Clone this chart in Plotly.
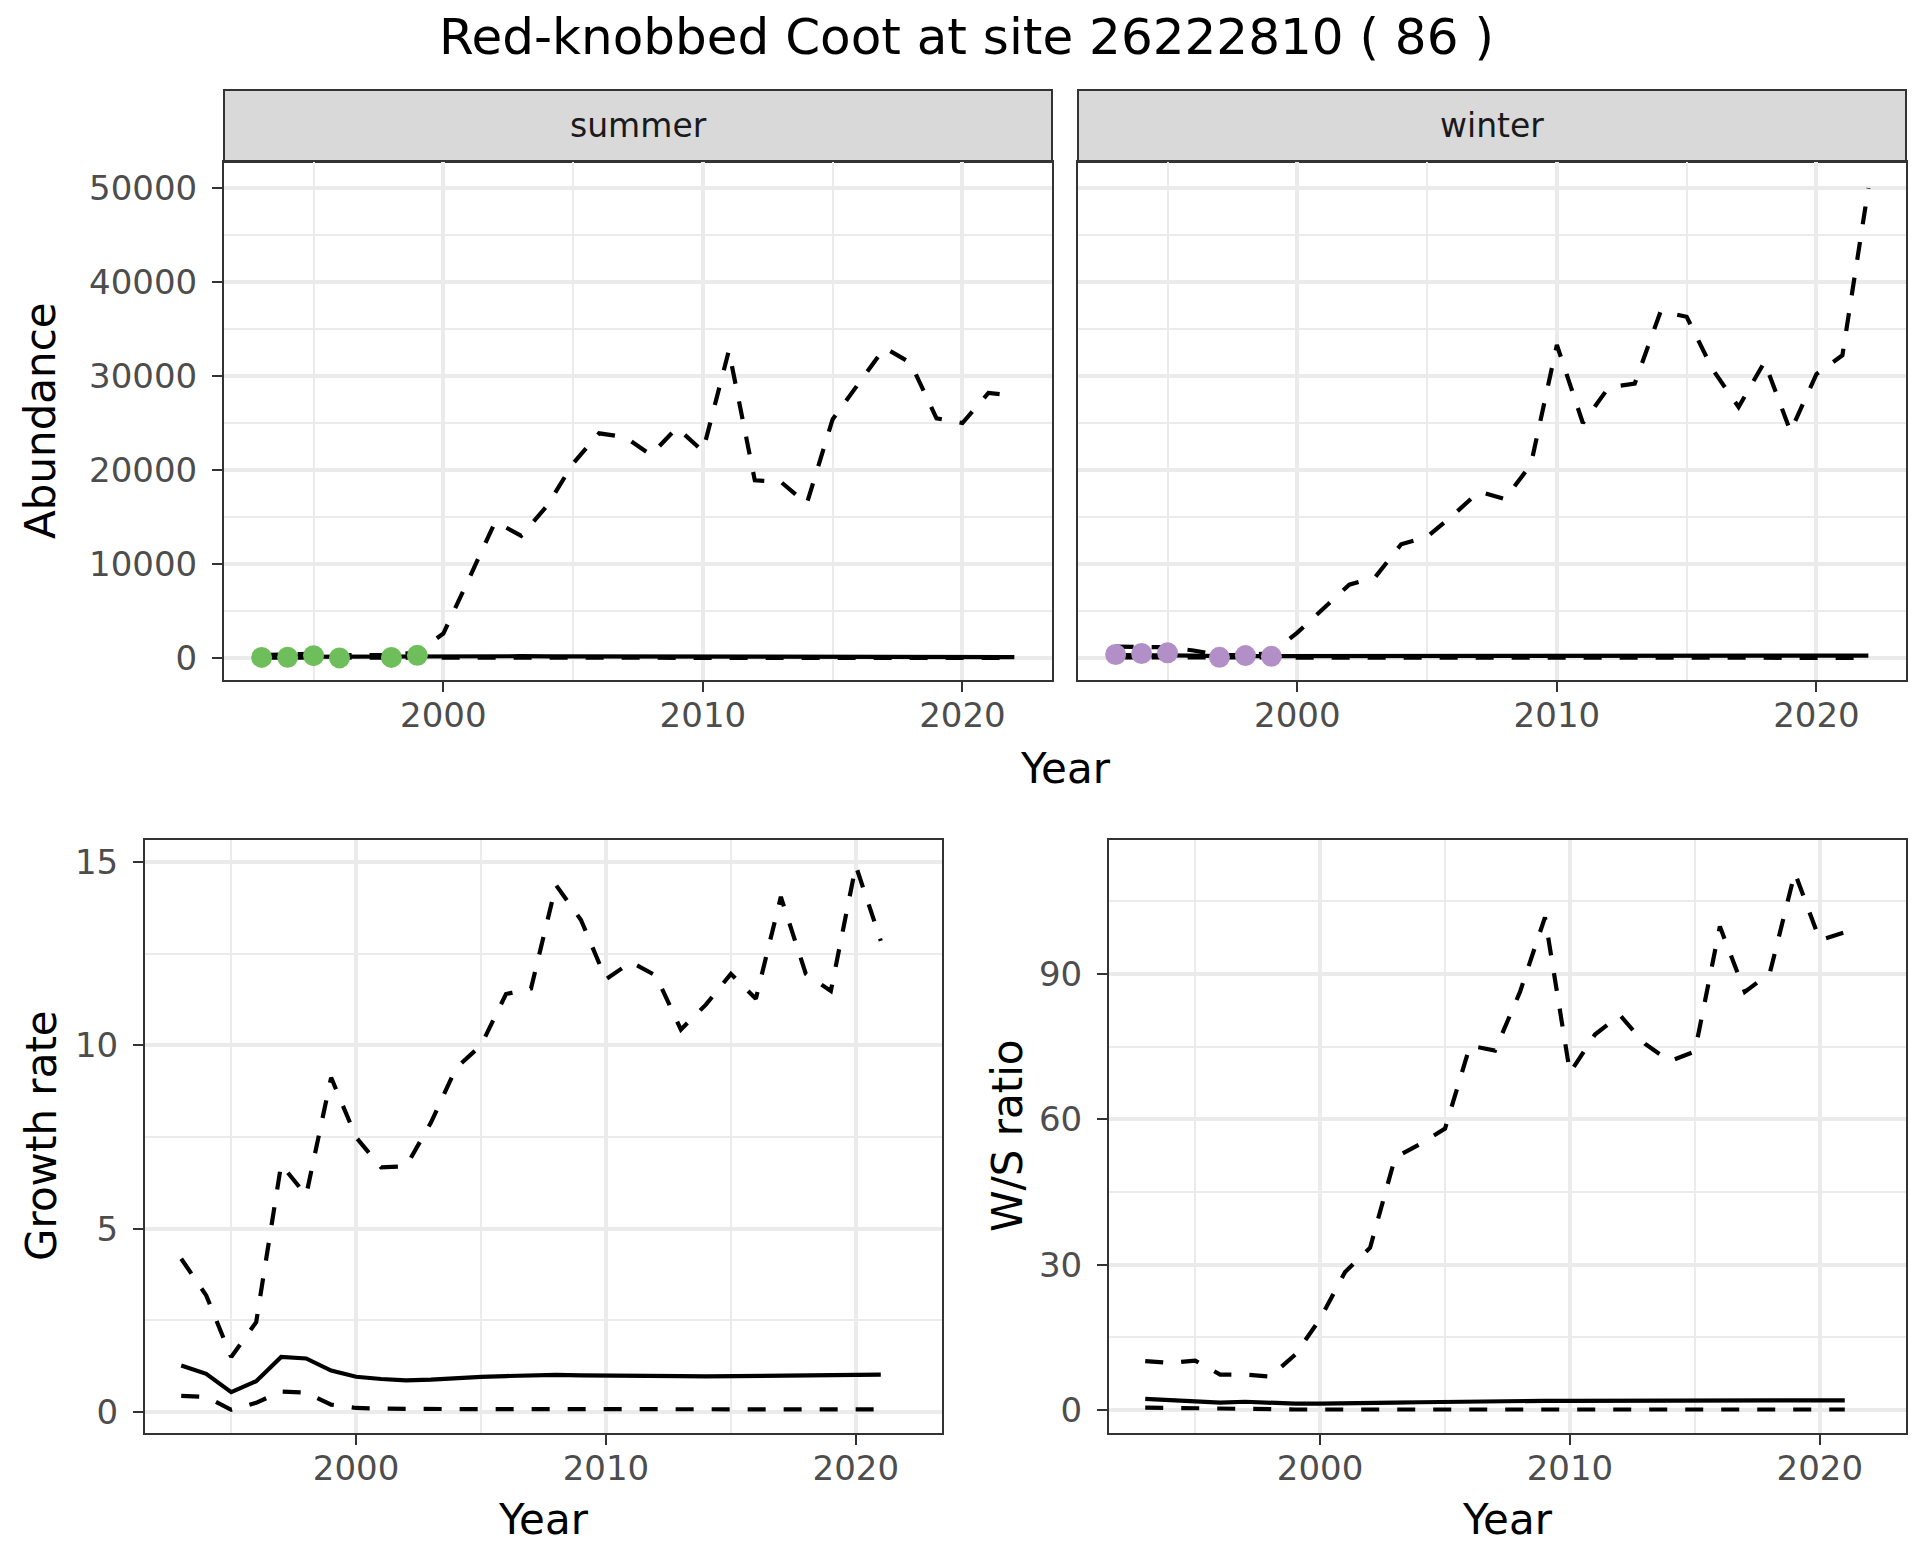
import plotly.graph_objects as go

W, H = 1920, 1560
OFF = 8  # page body margin compensation
FW, FH = W - OFF, H - OFF

years = list(range(1993, 2023))
years_rate = list(range(1993, 2022))

# Abundance: summer
summer_upper = [300, 350, 450, 300, 350, 300, 600, 2600, 8500, 14500, 13000, 16200, 20700, 23900,
                23500, 21600, 24500, 22000, 32700, 18900, 18750, 16400, 25400, 29200, 33000, 31400,
                25500, 25000, 28200, 27900]
summer_mean = [120, 130, 180, 100, 150, 130, 200, 250, 220, 200, 190, 180, 170, 160, 150, 150, 140,
               140, 130, 130, 120, 120, 120, 110, 110, 110, 100, 100, 100, 100]
summer_lower = [30, 30, 40, 20, 30, 20, 30, 20, 20, 20, 20, 20, 20, 20, 20, 20, 20, 20, 20, 20, 20,
                20, 20, 20, 20, 20, 20, 20, 20, 20]
summer_obs_years = [1993, 1994, 1995, 1996, 1998, 1999]
summer_obs = [60, 80, 250, 10, 60, 280]

# Abundance: winter
winter_upper = [1200, 1200, 1150, 800, 300, 300, 500, 2700, 5300, 7800, 8600, 12100, 12900, 15200,
                17700, 16900, 20600, 33300, 25000, 28800, 29200, 36900, 36300, 30700, 26700, 31500,
                24100, 30200, 32200, 50000]
winter_mean = [320, 330, 350, 250, 200, 200, 220, 250, 250, 260, 260, 250, 250, 250, 250, 260, 260,
               270, 270, 270, 270, 270, 270, 270, 260, 260, 260, 260, 260, 260]
winter_lower = [60, 60, 60, 40, 30, 30, 30, 20, 20, 20, 20, 20, 20, 20, 20, 20, 20, 20, 20, 20, 20,
                20, 20, 20, 20, 20, 20, 20, 20, 20]
winter_obs_years = [1993, 1994, 1995, 1997, 1998, 1999]
winter_obs = [370, 480, 550, 70, 260, 180]

# Growth rate
gr_upper = [4.18, 3.18, 1.50, 2.45, 6.75, 5.91, 9.12, 7.49, 6.67, 6.70, 7.9, 9.38, 10.0, 11.4,
            11.55, 14.37, 13.42, 11.8, 12.27, 11.9, 10.43, 11.11, 11.95, 11.27, 14.05, 11.95,
            11.48, 14.9, 12.85]
gr_mean = [1.27, 1.04, 0.54, 0.84, 1.50, 1.46, 1.13, 0.96, 0.90, 0.86, 0.88, 0.93, 0.96, 0.98,
           1.0, 1.01, 1.0, 1.0, 1.0, 0.98, 0.98, 0.97, 0.98, 0.99, 1.0, 1.01, 1.01, 1.02, 1.02]
gr_lower = [0.44, 0.41, 0.06, 0.25, 0.56, 0.53, 0.2, 0.11, 0.09, 0.08, 0.08, 0.08, 0.08, 0.08,
            0.08, 0.08, 0.07, 0.07, 0.07, 0.07, 0.07, 0.07, 0.07, 0.07, 0.07, 0.07, 0.07, 0.07, 0.07]

# W/S ratio
ws_upper = [10.1, 9.7, 10.2, 7.3, 7.3, 6.9, 11.4, 18.8, 28.5, 33.5, 52.1, 54.9, 58.1, 75.2, 74.2,
            86.3, 101.7, 69.6, 77.5, 81.5, 75.6, 72.0, 74.0, 99.8, 86.3, 90.2, 110.9, 97.0, 98.6]
ws_mean = [2.3, 2.0, 1.8, 1.5, 1.7, 1.4, 1.3, 1.3, 1.3, 1.4, 1.5, 1.6, 1.7, 1.8, 1.8, 1.9, 1.9,
           1.9, 1.9, 1.9, 1.9, 2.0, 2.0, 2.0, 2.0, 2.0, 2.0, 2.0, 2.0]
ws_lower = [0.5, 0.4, 0.3, 0.2, 0.2, 0.2, 0.1, 0.1, 0.1, 0.1, 0.1, 0.1, 0.1, 0.1, 0.1, 0.1, 0.1,
            0.1, 0.1, 0.1, 0.1, 0.1, 0.1, 0.1, 0.1, 0.1, 0.1, 0.1, 0.1]

title_text = "Red-knobbed Coot at site 26222810 ( 86 )"
strip_labels = ["summer", "winter"]

FONT = "DejaVu Sans"
LW = 4.2
DASH = "18px,18px"
GREEN = "#6FBE5C"
PURPLE = "#B38FC7"

fig = go.Figure()


def add_lines(x, up, mid, lo, xa, ya):
    for vals, dash in ((up, DASH), (lo, DASH), (mid, "solid")):
        fig.add_trace(go.Scatter(x=x, y=vals, mode="lines", xaxis=xa, yaxis=ya,
                                 line=dict(color="black", width=LW, dash=dash),
                                 showlegend=False, hoverinfo="skip"))


add_lines(years, summer_upper, summer_mean, summer_lower, "x", "y")
fig.add_trace(go.Scatter(x=summer_obs_years, y=summer_obs, mode="markers", xaxis="x", yaxis="y",
                         marker=dict(color=GREEN, size=21, line=dict(width=0)), showlegend=False))
add_lines(years, winter_upper, winter_mean, winter_lower, "x2", "y2")
fig.add_trace(go.Scatter(x=winter_obs_years, y=winter_obs, mode="markers", xaxis="x2", yaxis="y2",
                         marker=dict(color=PURPLE, size=21, line=dict(width=0)), showlegend=False))
add_lines(years_rate, gr_upper, gr_mean, gr_lower, "x3", "y3")
add_lines(years_rate, ws_upper, ws_mean, ws_lower, "x4", "y4")


def fx(x):
    return (x - OFF) / FW


def fy(y):
    return 1 - (y - OFF) / FH


def px_x(a, b):
    return [fx(a), fx(b)]


def px_y(top, bottom):
    return [fy(bottom), fy(top)]


XR = [1991.55, 2023.45]
GRID = "#EBEBEB"
tickfont = dict(family=FONT, size=34, color="#4D4D4D")


def xaxis(domain, anchor):
    return dict(domain=domain, anchor=anchor, range=XR, tick0=2000, dtick=10,
                ticks="outside", ticklen=10, tickwidth=2, tickcolor="#333333",
                showline=True, mirror=True, linecolor="#333333", linewidth=2,
                showgrid=True, gridcolor=GRID, gridwidth=3.5, zeroline=False,
                tickfont=tickfont, ticklabelstandoff=-6,
                minor=dict(tick0=1995, dtick=5, showgrid=True, gridcolor=GRID, gridwidth=1.8, ticks=""))


def yaxis(domain, anchor, rng, dtick, mdtick, labels=True):
    return dict(domain=domain, anchor=anchor, range=rng, tick0=0, dtick=dtick,
                ticks="outside" if labels else "", ticklen=10, tickwidth=2, tickcolor="#333333",
                showticklabels=labels, tickformat="d",
                showline=True, mirror=True, linecolor="#333333", linewidth=2,
                showgrid=True, gridcolor=GRID, gridwidth=3.5, zeroline=False,
                tickfont=tickfont, ticklabelstandoff=8,
                minor=dict(tick0=0, dtick=mdtick, showgrid=True, gridcolor=GRID, gridwidth=1.8, ticks=""))


top_y = px_y(162, 680)
bot_y = px_y(840, 1433)
tl_x = px_x(224, 1052)
tr_x = px_x(1078, 1906)
bl_x = px_x(145, 942)
br_x = px_x(1109, 1906)

ab_range = [-2340, 52766]

fig.update_layout(
    width=FW, height=FH, margin=dict(l=0, r=0, t=0, b=0),
    paper_bgcolor="white", plot_bgcolor="white",
    font=dict(family=FONT, color="black"),
    xaxis=xaxis(tl_x, "y"),
    xaxis2=xaxis(tr_x, "y2"),
    xaxis3=xaxis(bl_x, "y3"),
    xaxis4=xaxis(br_x, "y4"),
    yaxis=yaxis(top_y, "x", ab_range, 10000, 5000),
    yaxis2=yaxis(top_y, "x2", ab_range, 10000, 5000, labels=False),
    yaxis3=yaxis(bot_y, "x3", [-0.573, 15.6], 5, 2.5),
    yaxis4=yaxis(bot_y, "x4", [-4.75, 117.66], 30, 15),
)

shapes = []
annotations = []
for (x0, x1), lab in zip([(224, 1052), (1078, 1906)], strip_labels):
    shapes.append(dict(type="rect", xref="paper", yref="paper", x0=fx(x0), x1=fx(x1),
                       y0=fy(162), y1=fy(90), fillcolor="#D9D9D9",
                       line=dict(color="#333333", width=2), layer="below"))
    annotations.append(dict(text=lab, xref="paper", yref="paper", x=fx((x0 + x1) / 2),
                            y=fy(126), showarrow=False, xanchor="center", yanchor="middle",
                            font=dict(family=FONT, size=33, color="#1A1A1A")))

annotations.append(dict(text=title_text, xref="paper", yref="paper", x=fx(966), y=fy(37),
                        showarrow=False, xanchor="center", yanchor="middle",
                        font=dict(family=FONT, size=50, color="black")))

ax_font = dict(family=FONT, size=42, color="black")
annotations += [
    dict(text="Year", xref="paper", yref="paper", x=fx(1065), y=fy(768), showarrow=False,
         xanchor="center", yanchor="middle", font=ax_font),
    dict(text="Year", xref="paper", yref="paper", x=fx(543), y=fy(1519), showarrow=False,
         xanchor="center", yanchor="middle", font=ax_font),
    dict(text="Year", xref="paper", yref="paper", x=fx(1507), y=fy(1519), showarrow=False,
         xanchor="center", yanchor="middle", font=ax_font),
    dict(text="Abundance", xref="paper", yref="paper", x=fx(41), y=fy(421), showarrow=False,
         xanchor="center", yanchor="middle", textangle=-90, font=ax_font),
    dict(text="Growth rate", xref="paper", yref="paper", x=fx(41), y=fy(1136), showarrow=False,
         xanchor="center", yanchor="middle", textangle=-90, font=ax_font),
    dict(text="W/S ratio", xref="paper", yref="paper", x=fx(1007), y=fy(1136), showarrow=False,
         xanchor="center", yanchor="middle", textangle=-90, font=ax_font),
]

fig.update_layout(shapes=shapes, annotations=annotations)
fig.write_html("out.html")
